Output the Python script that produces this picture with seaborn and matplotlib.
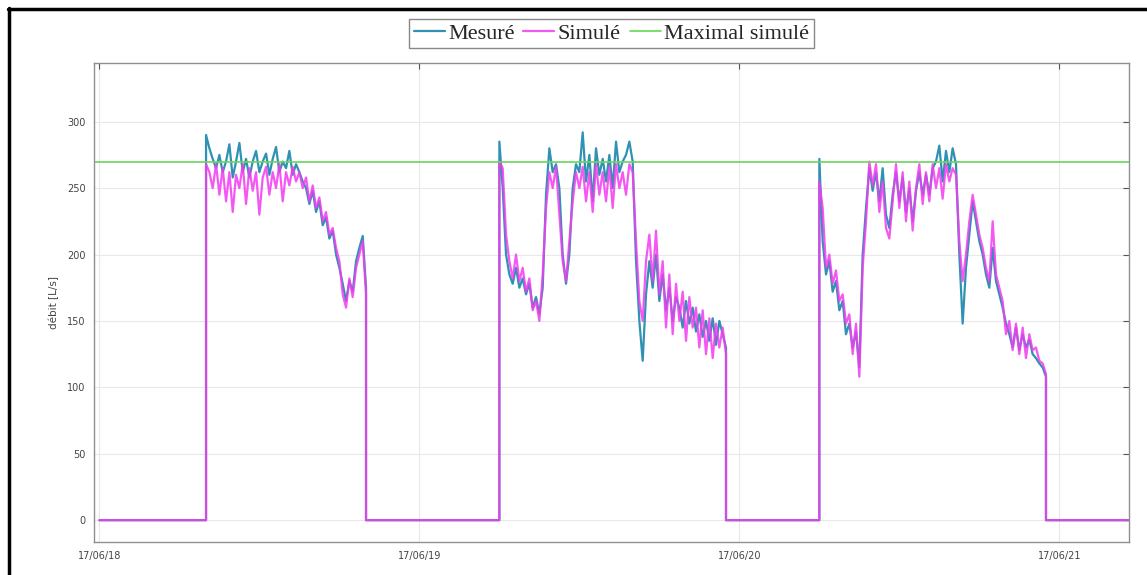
import pandas as pd
import seaborn as sns
import matplotlib.pyplot as plt
import matplotlib.dates as mdates
from matplotlib.lines import Line2D

# Debit mesure et simule, pas de 15 min pendant les periodes de pompage
jour0 = pd.Timestamp("2017-06-18")
fin_h = 77.2                      # fin de l'axe (heures depuis 17/06/18 00:00)
debuts_h = [8.0, 30.0, 54.0]      # debut de chaque periode de pompage
debit_max_simule = 270

mesure_1 = [290, 280, 272, 265, 275, 262, 270, 283, 258, 270, 284, 262, 272,
            258, 270, 278, 262, 270, 276, 260, 272, 281, 262, 270, 265, 278,
            260, 268, 262, 255, 250, 238, 248, 232, 240, 222, 228, 212, 218,
            200, 190, 178, 165, 180, 172, 195, 205, 214, 175]
simule_1 = [268, 262, 250, 268, 245, 265, 240, 262, 232, 260, 250, 268, 238,
            265, 248, 262, 230, 258, 266, 245, 262, 250, 268, 240, 262, 252,
            266, 255, 262, 250, 258, 240, 252, 235, 243, 225, 232, 215, 220,
            205, 195, 170, 160, 182, 168, 190, 200, 210, 170]

mesure_2 = [285, 250, 200, 185, 178, 190, 175, 182, 170, 178, 160, 168, 155,
            175, 245, 280, 262, 268, 250, 200, 178, 200, 250, 268, 262, 292,
            255, 275, 240, 280, 260, 272, 255, 275, 250, 285, 262, 270, 275,
            285, 270, 195, 150, 120, 170, 195, 175, 200, 165, 185, 158, 175,
            150, 168, 160, 145, 165, 148, 160, 142, 155, 138, 150, 135, 152,
            132, 150, 140, 130]
simule_2 = [270, 265, 215, 195, 182, 200, 180, 190, 172, 182, 158, 165, 150,
            185, 235, 262, 250, 266, 230, 195, 180, 210, 240, 262, 250, 266,
            240, 262, 232, 268, 245, 262, 240, 266, 235, 268, 250, 262, 245,
            268, 262, 210, 165, 150, 195, 215, 180, 218, 170, 195, 145, 185,
            140, 178, 150, 172, 135, 168, 145, 160, 130, 158, 125, 152, 122,
            148, 130, 145, 125]

mesure_3 = [272, 210, 185, 195, 172, 180, 158, 165, 140, 148, 130, 142, 115,
            200, 235, 265, 248, 262, 240, 265, 230, 220, 245, 262, 240, 258,
            232, 250, 225, 248, 262, 245, 260, 245, 265, 270, 282, 255, 278,
            262, 280, 268, 200, 148, 190, 215, 240, 225, 210, 200, 185, 175,
            205, 180, 170, 160, 148, 140, 130, 145, 128, 140, 130, 136, 125,
            122, 118, 115, 108]
simule_3 = [255, 235, 190, 200, 178, 188, 165, 170, 148, 155, 125, 148, 108,
            190, 225, 270, 252, 268, 232, 255, 220, 212, 240, 268, 235, 262,
            225, 255, 218, 250, 268, 238, 262, 240, 268, 250, 265, 242, 268,
            255, 265, 260, 210, 180, 200, 225, 245, 230, 215, 205, 190, 180,
            225, 185, 175, 165, 140, 150, 128, 148, 125, 145, 122, 140, 128,
            130, 120, 118, 110]


def serie(segments):
    # zeros hors periodes de pompage, fronts verticaux
    t = [jour0]
    v = [0]
    for h, vals in zip(debuts_h, segments):
        t0 = jour0 + pd.Timedelta(hours=h)
        t.append(t0)
        v.append(0)
        for i, val in enumerate(vals):
            t.append(t0 + pd.Timedelta(minutes=15 * i))
            v.append(val)
        t.append(t[-1])
        v.append(0)
    t.append(jour0 + pd.Timedelta(hours=fin_h))
    v.append(0)
    return pd.DataFrame({"temps": t, "debit": v})


df_mes = serie([mesure_1, mesure_2, mesure_3])
df_sim = serie([simule_1, simule_2, simule_3])
df_max = pd.DataFrame({"temps": [jour0 - pd.Timedelta(hours=1), jour0 + pd.Timedelta(hours=fin_h + 1)],
                       "debit": [debit_max_simule, debit_max_simule]})

sns.set_theme(style="white")
plt.rcParams["font.family"] = ["DejaVu Sans"]

fig = plt.figure(figsize=(11.47, 5.75), dpi=100)
ax = fig.add_axes([0.082, 0.057, 0.902, 0.833])

sns.lineplot(data=df_mes, x="temps", y="debit", ax=ax, estimator=None, sort=False,
             color="#2f92b4", lw=1.6, label="Mesuré")
sns.lineplot(data=df_sim, x="temps", y="debit", ax=ax, estimator=None, sort=False,
             color="#f23cf0", lw=1.6, alpha=0.85, label="Simulé")
sns.lineplot(data=df_max, x="temps", y="debit", ax=ax, estimator=None, sort=False,
             color="#6ad65a", lw=1.2, label="Maximal simulé")

ax.set_xlim(jour0 - pd.Timedelta(hours=0.4), jour0 + pd.Timedelta(hours=fin_h))
ax.set_ylim(-16.6, 344)
ax.set_yticks(range(0, 301, 50))
ax.xaxis.set_major_locator(mdates.DayLocator())
ax.xaxis.set_major_formatter(mdates.DateFormatter("%y/%m/%d"))

ax.grid(True, color="#e8e8e8", lw=0.8)
ax.tick_params(direction="in", length=4, width=0.8, color="#555555",
               labelsize=7, labelcolor="#444444", top=True, right=True, pad=6)
for s in ax.spines.values():
    s.set_color("#8f8f8f")
    s.set_linewidth(1.0)

ax.set_xlabel("")
ax.set_ylabel("débit [L/s]", fontsize=7.5, color="#444444", labelpad=6)

ax.legend(loc="lower center", bbox_to_anchor=(0.5, 1.031), ncol=3, frameon=True,
          fancybox=False, edgecolor="#888888", framealpha=1,
          prop={"family": "Liberation Serif", "size": 16},
          handlelength=1.4, handletextpad=0.15, columnspacing=0.4,
          borderpad=0.2, borderaxespad=0)

# cadre noir de la figure (haut et gauche)
fig.add_artist(Line2D([8 / 1147, 1], [1 - 8.5 / 575, 1 - 8.5 / 575], color="black", lw=2.5,
                      transform=fig.transFigure))
fig.add_artist(Line2D([8.5 / 1147, 8.5 / 1147], [0, 1 - 8 / 575], color="black", lw=2.5,
                      transform=fig.transFigure))

fig.savefig("out.png", dpi=100)
